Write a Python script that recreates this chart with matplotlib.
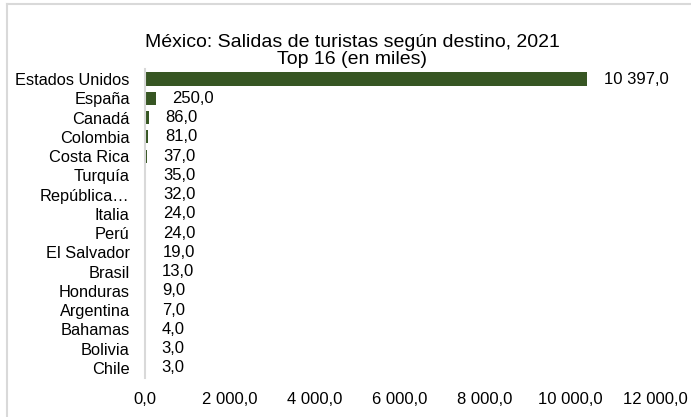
import matplotlib
matplotlib.use("Agg")
import matplotlib.pyplot as plt
from matplotlib.lines import Line2D

plt.rcParams['font.family'] = ['Liberation Sans', 'DejaVu Sans']

countries = ["Estados Unidos", "España", "Canadá", "Colombia", "Costa Rica",
             "Turquía", "República…", "Italia", "Perú", "El Salvador", "Brasil",
             "Honduras", "Argentina", "Bahamas", "Bolivia", "Chile"]
values = [10397, 250, 86, 81, 37, 35, 32, 24, 24, 19, 13, 9, 7, 4, 3, 3]
xticks = [0, 2000, 4000, 6000, 8000, 10000, 12000]
title = "México: Salidas de turistas según destino, 2021\nTop 16 (en miles)"

def fmt(v):
    s = f"{v:,.1f}"
    s = s.replace(",", " ").replace(".", ",")
    return s

W, H = 691, 417
fig = plt.figure(figsize=(W / 100, H / 100), dpi=100)
ax = fig.add_axes([145 / W, 1 - 377.6 / H, (655 - 145) / W, (377.6 - 69.4) / H])

y = list(range(len(countries)))
ax.barh(y, values, height=0.68, color="#375623")
ax.set_ylim(len(countries) - 0.5, -0.5)
ax.set_xlim(0, 12000)
ax.set_yticks(y)
ax.set_yticklabels(countries, fontsize=11.8, color="#000000")
ax.set_xticks(xticks)
ax.set_xticklabels([fmt(t) for t in xticks], fontsize=12, color="#000000")
ax.tick_params(axis='y', length=0, pad=11)
ax.tick_params(axis='x', length=0, pad=10.5)
for s in ["top", "right", "bottom"]:
    ax.spines[s].set_visible(False)
ax.spines["left"].set_color("#d9d9d9")
ax.spines["left"].set_linewidth(1.5)

for yi, v in zip(y, values):
    ax.annotate(fmt(v), xy=(v, yi), xytext=(12, 0), textcoords="offset points",
                va="center", ha="left", fontsize=12, color="#000000")

fig.text(352 / W, 1 - 51 / H, title, ha="center", va="center", fontsize=14,
         linespacing=1.0)

# outer light border
fig.add_artist(Line2D([7 / W, 1], [1 - 4 / H, 1 - 4 / H], transform=fig.transFigure,
                      color="#d9d9d9", linewidth=1.5))
fig.add_artist(Line2D([7 / W, 7 / W], [0, 1 - 4 / H], transform=fig.transFigure,
                      color="#d9d9d9", linewidth=1.5))

fig.savefig("out.png", dpi=100)
